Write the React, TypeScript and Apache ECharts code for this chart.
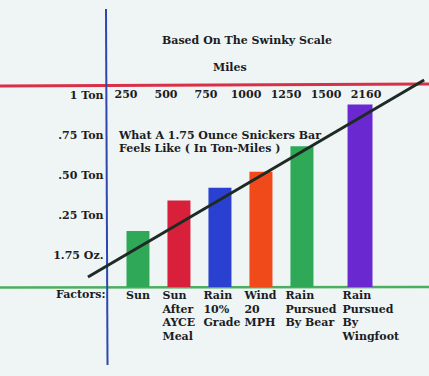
import React, { useEffect, useRef } from "react";
import * as echarts from "echarts";

const factors = [
  "Sun",
  "Sun\nAfter\nAYCE\nMeal",
  "Rain\n10%\nGrade",
  "Wind\n20\nMPH",
  "Rain\nPursued\nBy Bear",
  "Rain\nPursued\nBy\nWingfoot",
];
const tonMiles = [0.15, 0.34, 0.42, 0.52, 0.68, 0.94];
const barColors = ["#2fa858", "#d8203a", "#2a40d0", "#f04a1a", "#2fa858", "#6a28d0"];
const milesLabels = ["250", "500", "750", "1000", "1250", "1500", "2160"];
const yTickValues = [0, 0.25, 0.5, 0.75, 1];
const yTickLabels = ["1.75 Oz.", ".25 Ton", ".50 Ton", ".75 Ton", "1 Ton"];
const yMin = -0.2;
const yMax = 1.0625;
// trend line end points: [factor position, tons]
const trendStart = [-0.94, -0.1375];
const trendEnd = [7.26, 1.094];

const FONT = "'DejaVu Serif', serif";
const INK = "#1b1c24";

export default function App() {
  const ref = useRef<HTMLDivElement>(null);
  useEffect(() => {
    if (!ref.current) return;
    const chart = echarts.init(ref.current, null, { renderer: "svg" });
    const txt = { fontFamily: FONT, fontWeight: "bold" as const, fontSize: 11, color: INK };
    const last = factors.length - 1;
    const barLabel = {
      show: true,
      position: [-5, "100%"],
      offset: [0, 2],
      align: "left",
      verticalAlign: "top",
      formatter: (p: any) => p.name,
      ...txt,
      lineHeight: 13.5,
    };
    const barItem = (v: number, i: number) => ({
      value: v - yMin,
      itemStyle: { color: barColors[i] },
      ...(i === 0 ? { label: { position: ["50%", "100%"], align: "center" } } : {}),
    });
    chart.setOption({
      animation: false,
      backgroundColor: "#eef5f4",
      grid: [
        { left: 126.5, width: 246, top: 85, height: 202, outerBoundsMode: "none" },
        { left: 106, width: 280, top: 85, height: 202, outerBoundsMode: "none" },
        { left: 85.5, width: 340.3, top: 63, height: 224, outerBoundsMode: "none" },
      ],
      title: [
        { text: "Based On The Swinky Scale", left: 162, top: 35, padding: 0, textStyle: txt },
        { text: "Miles", left: 213, top: 62, padding: 0, textStyle: txt },
        {
          text: "What A 1.75 Ounce Snickers Bar\nFeels Like ( In Ton-Miles )",
          left: 119,
          top: 129,
          padding: 0,
          textStyle: { ...txt, lineHeight: 13 },
        },
        { text: "Factors:", left: 56, top: 289, padding: 0, textStyle: txt },
      ],
      xAxis: [
        {
          type: "category",
          gridIndex: 0,
          data: factors,
          axisLine: { show: false },
          axisTick: { show: false },
          axisLabel: { show: false },
        },
        {
          type: "category",
          gridIndex: 1,
          position: "top",
          data: milesLabels,
          axisLine: { show: false },
          axisTick: { show: false },
          axisLabel: { inside: true, margin: 4, ...txt },
        },
        {
          type: "value",
          gridIndex: 2,
          min: -1,
          max: 7.3,
          show: false,
        },
      ],
      yAxis: [
        {
          type: "value",
          gridIndex: 0,
          min: yMin,
          max: yMax,
          splitLine: { show: false },
          axisLine: { show: false },
          axisTick: { show: false },
          axisLabel: {
            customValues: yTickValues,
            margin: 23,
            ...txt,
            formatter: (v: number) => {
              const i = yTickValues.findIndex((t) => Math.abs(t - v) < 1e-6);
              return i >= 0 ? yTickLabels[i] : "";
            },
          },
        },
        {
          type: "value",
          gridIndex: 0,
          min: 0,
          max: yMax - yMin,
          show: false,
        },
        { type: "value", gridIndex: 1, show: false },
        { type: "value", gridIndex: 2, min: yMin, max: 1.2, show: false },
      ],
      graphic: [
        {
          type: "line",
          z: 1,
          shape: { x1: 0, y1: 86, x2: 429, y2: 84 },
          style: { stroke: "#d83048", lineWidth: 3 },
        },
        {
          type: "line",
          z: 1,
          shape: { x1: 0, y1: 287.5, x2: 429, y2: 287 },
          style: { stroke: "#4caf5f", lineWidth: 2.5 },
        },
        {
          type: "line",
          z: 1,
          shape: { x1: 106, y1: 9, x2: 107.5, y2: 365 },
          style: { stroke: "#2c47b0", lineWidth: 2 },
        },
      ],
      series: [
        {
          type: "bar",
          xAxisIndex: 0,
          yAxisIndex: 1,
          barWidth: 23,
          barGap: "-30%",
          z: 3,
          data: tonMiles.map((v, i) => (i < last ? barItem(v, i) : "-")),
          label: barLabel,
        },
        {
          type: "bar",
          xAxisIndex: 0,
          yAxisIndex: 1,
          barWidth: 25,
          z: 3,
          data: tonMiles.map((v, i) => (i === last ? barItem(v, i) : "-")),
          label: barLabel,
        },
        {
          type: "line",
          xAxisIndex: 2,
          yAxisIndex: 3,
          symbol: "none",
          clip: false,
          z: 5,
          data: [trendStart, trendEnd],
          lineStyle: { color: "#1e2a24", width: 3 },
        },
      ],
    });
    return () => chart.dispose();
  }, []);
  return (
    <div
      ref={ref}
      style={{ position: "fixed", left: 0, top: 0, width: 429, height: 376 }}
    />
  );
}
